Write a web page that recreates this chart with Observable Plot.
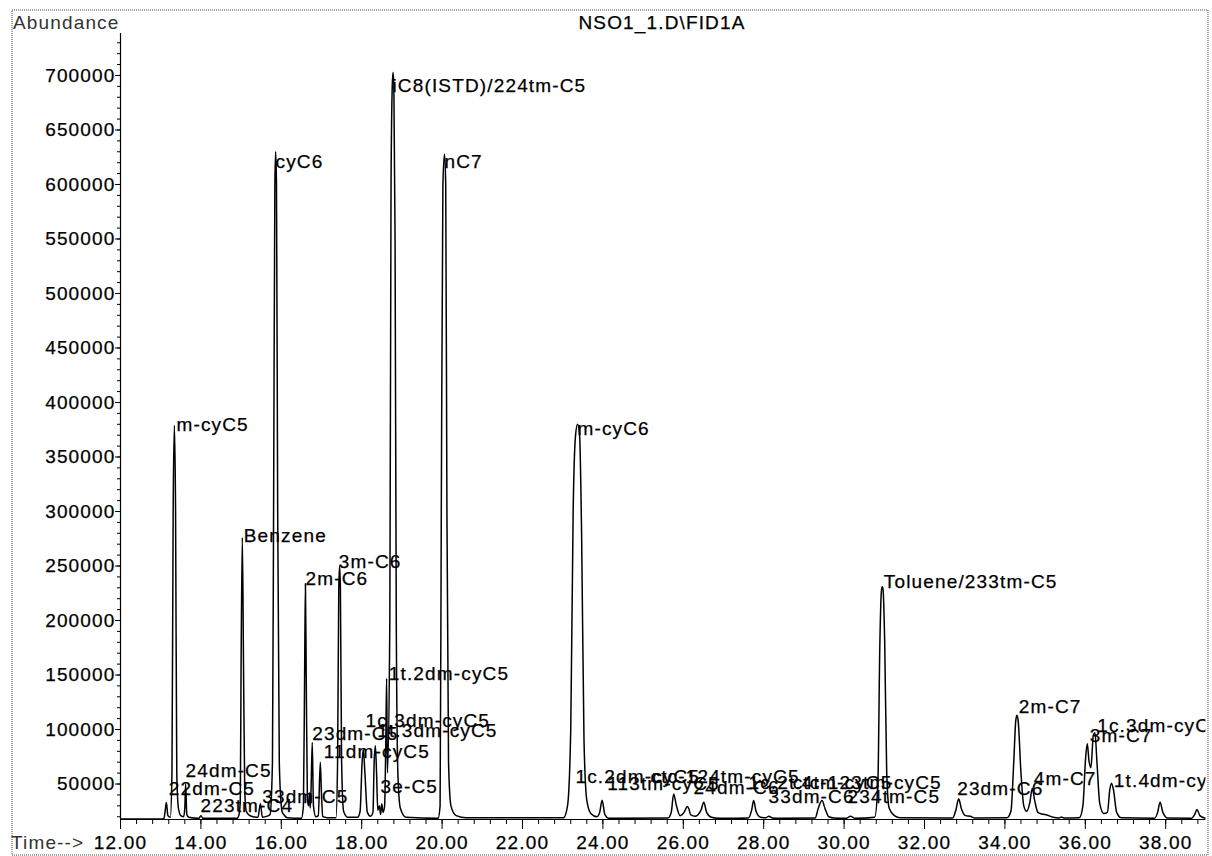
<!DOCTYPE html>
<html><head><meta charset="utf-8">
<script src="https://cdn.jsdelivr.net/npm/d3@7"></script>
<script src="https://cdn.jsdelivr.net/npm/@observablehq/plot@0.6"></script>
<style>
html,body{margin:0;padding:0;background:#fff;}
#chart{position:relative;width:1212px;height:856px;}
#chart svg text{stroke:#000;stroke-width:0.25px;}
</style></head><body><div id="chart"></div>
<script>
// ---- chromatogram trace (retention time in min, abundance) ----
const rt = [
12.00,13.08,13.11,13.14,13.18,13.24,13.28,13.31,13.34,13.37,13.40,13.44,13.50,13.57,13.60,13.62,13.65,13.70,13.95,14.00,14.05,
14.90,14.95,14.98,15.00,15.03,15.06,15.09,15.13,15.20,15.30,15.42,15.48,15.53,15.65,15.72,15.78,15.81,15.84,15.86,15.88,15.91,15.95,16.00,16.02,16.06,16.15,
16.50,16.55,16.58,16.60,16.62,16.65,16.68,16.70,16.72,16.74,16.77,16.80,16.86,16.92,16.97,17.00,17.03,17.08,17.20,17.36,17.40,17.43,17.45,17.47,17.50,17.55,17.65,
17.90,17.96,18.01,18.04,18.08,18.14,18.22,18.28,18.31,18.34,18.37,18.40,18.44,18.47,18.50,18.53,18.57,18.60,18.62,18.64,18.70,18.73,18.76,18.78,18.80,18.83,18.86,18.90,18.96,19.10,
19.90,19.95,19.98,20.02,20.06,20.09,20.12,20.16,20.22,20.35,20.60,
23.02,23.12,23.20,23.26,23.32,23.37,23.42,23.47,23.53,23.60,23.70,23.85,23.92,23.98,24.05,24.15,
25.62,25.70,25.76,25.83,25.92,26.02,26.10,26.14,26.18,26.30,26.44,26.51,26.58,26.70,26.90,
27.62,27.70,27.75,27.81,27.92,28.05,28.13,28.22,28.40,
29.28,29.36,29.45,29.53,29.62,29.75,30.05,30.16,30.27,
30.76,30.84,30.89,30.93,30.95,30.97,31.01,31.06,31.12,31.25,31.40,
32.70,32.78,32.85,32.92,33.02,33.14,33.25,
34.05,34.15,34.22,34.27,34.30,34.33,34.40,34.47,34.54,34.62,34.68,34.74,34.82,34.92,35.05,35.20,35.35,35.40,35.46,
35.85,35.94,36.01,36.05,36.09,36.14,36.20,36.24,36.29,36.36,36.46,36.55,36.61,36.65,36.70,36.78,36.90,
37.72,37.80,37.86,37.93,38.05,38.65,38.72,38.78,38.85,39.00
];
const signal = [
18000,18000,25000,33000,21000,19500,60000,300000,379000,300000,60000,28000,21000,20000,28000,50000,22000,19500,18500,21000,18500,
18500,22000,35000,160000,276000,160000,45000,25000,21500,20000,19500,32000,19500,20500,22000,70000,320000,600000,630000,600000,300000,70000,30000,24500,22000,19000,
18500,30000,150000,234000,150000,35000,30000,42000,28000,45000,88000,30000,20000,21000,70000,40000,20500,19500,19000,19000,70000,230000,250000,230000,70000,25000,19500,
19500,25000,70000,82000,60000,24000,20500,24000,70000,85000,60000,26000,30000,22000,32000,24000,30000,90000,147000,60000,200000,600000,690000,703000,690000,550000,200000,60000,28000,19500,
18500,30000,300000,600000,628000,600000,300000,70000,30000,21000,19000,
19000,30000,100000,300000,370000,380000,370000,280000,90000,35000,23000,20000,24000,35000,22000,18500,
18800,24000,40900,30000,21000,24000,29300,27000,22000,20500,26000,33300,24000,19500,18500,
18800,26000,34900,25000,19500,19000,20500,18800,18500,
18800,28000,34900,27000,20000,18800,18500,20500,18500,
19500,50000,180000,228000,231000,228000,180000,60000,28000,21000,19000,
18800,26000,36500,27000,21000,20500,18800,
19000,25000,70000,108000,113000,108000,60000,30000,25000,33000,46000,35000,24000,22500,21500,19500,18800,19800,18800,
19000,30000,75000,87000,72000,65000,95000,97000,70000,32000,23000,24000,45000,50700,45000,24000,19000,
18600,24000,33300,24000,18800,18600,22000,26600,21000,18500
];

// ---- peak labels: text and anchor (retention time, abundance) ----
const peakNames = [
"m-cyC5","cyC6","iC8(ISTD)/224tm-C5","nC7","Benzene","2m-C6","3m-C6","1t.2dm-cyC5",
"1c.3dm-cyC5","1t.3dm-cyC5","23dm-C5","11dm-cyC5","3e-C5","33dm-C5","223tm-C4","22dm-C5","24dm-C5",
"m-cyC6","1c.2dm-cyC5","113tm-cyC5","ctc-124tm-cyC5","24dm-C6","1c.2t.4tm-cyC5","ctc-123tm-cyC5",
"33dm-C6","234tm-C5","Toluene/233tm-C5","23dm-C6","2m-C7","4m-C7","3m-C7","1c.3dm-cyC6","1t.4dm-cyC6"
];
const peakLabelRT = [
13.393,15.856,18.766,20.060,15.067,16.602,17.430,18.674,
18.095,18.386,16.769,17.057,18.468,15.525,13.990,13.201,13.617,
23.368,23.318,24.107,25.184,26.254,27.622,28.720,
28.119,30.085,30.988,32.813,34.346,34.719,36.112,36.296,36.709
];
const peakLabelAbund = [
379000,621100,690800,620500,278000,238300,253500,151100,
108300,99100,96100,79200,47100,37900,30300,45600,62400,
376200,56300,50200,56900,46800,51400,51400,
37900,37900,235200,45900,120500,54800,94500,103700,53200
];

// ---- axes ----
const xTickValues = [12,14,16,18,20,22,24,26,28,30,32,34,36,38];
const yTickValues = [50000,100000,150000,200000,250000,300000,350000,400000,450000,500000,550000,600000,650000,700000];
const chartTitle = "NSO1_1.D\\FID1A";
const yTitle = "Abundance";
const xTitle = "Time-->";

const trace = rt.map((t, i) => ({t, v: signal[i]}));
const labels = peakNames.map((name, i) => ({name, t: peakLabelRT[i], v: peakLabelAbund[i]}));
const xMinor = d3.range(12, 39.01, 0.4).map(d => +d.toFixed(2));
const yMinor = d3.range(20000, 735001, 10000);

const FONT = "'Liberation Sans', Arial, Helvetica, sans-serif";
const chart = Plot.plot({
  width: 1212, height: 856,
  marginLeft: 120, marginRight: 6.6, marginTop: 33, marginBottom: 37,
  x: {domain: [12, 39]},
  y: {domain: [17450, 738500]},
  style: {fontFamily: FONT, fontSize: "19px", letterSpacing: "1.15px", background: "#fff", color: "#000", overflow: "visible"},
  marks: [
    Plot.axisY({ticks: yMinor, tickSize: 3, tickFormat: () => "", label: null}),
    Plot.axisY({ticks: yTickValues, tickSize: 5, tickPadding: 0, tickFormat: d3.format("d"), label: null, fontSize: 19}),
    Plot.axisX({ticks: xMinor, tickSize: 5, tickFormat: () => "", label: null}),
    Plot.axisX({ticks: xTickValues, tickSize: 10, tickPadding: 6, tickFormat: d3.format(".2f"), label: null, fontSize: 19}),
    Plot.ruleX([12], {stroke: "#000", strokeWidth: 1.2}),
    Plot.ruleY([17450], {stroke: "#000", strokeWidth: 1.2}),
    Plot.line(trace, {x: "t", y: "v", stroke: "#000", strokeWidth: 1.5, curve: "monotone-x", clip: true}),
    Plot.text(labels, {x: "t", y: "v", text: "name", textAnchor: "start", lineAnchor: "middle", fill: "#000", fontSize: 19, clip: true})
  ]
});
document.getElementById("chart").appendChild(chart);

const svg = d3.select(chart);
svg.append("rect").attr("x", 12).attr("y", 10).attr("width", 1196).attr("height", 845)
  .attr("fill", "none").attr("stroke", "#444").attr("stroke-width", 1).attr("stroke-dasharray", "1,1");
svg.append("text").attr("x", 13).attr("y", 29).attr("text-anchor", "start").attr("font-size", 19).attr("fill", "#333").style("stroke-width", "0px").text(yTitle);
svg.append("text").attr("x", 662).attr("y", 29).attr("text-anchor", "middle").attr("font-size", 19).attr("fill", "#000").text(chartTitle);
svg.append("text").attr("x", 11).attr("y", 849).attr("text-anchor", "start").attr("font-size", 19).attr("fill", "#333").style("stroke-width", "0px").text(xTitle);
</script></body></html>
